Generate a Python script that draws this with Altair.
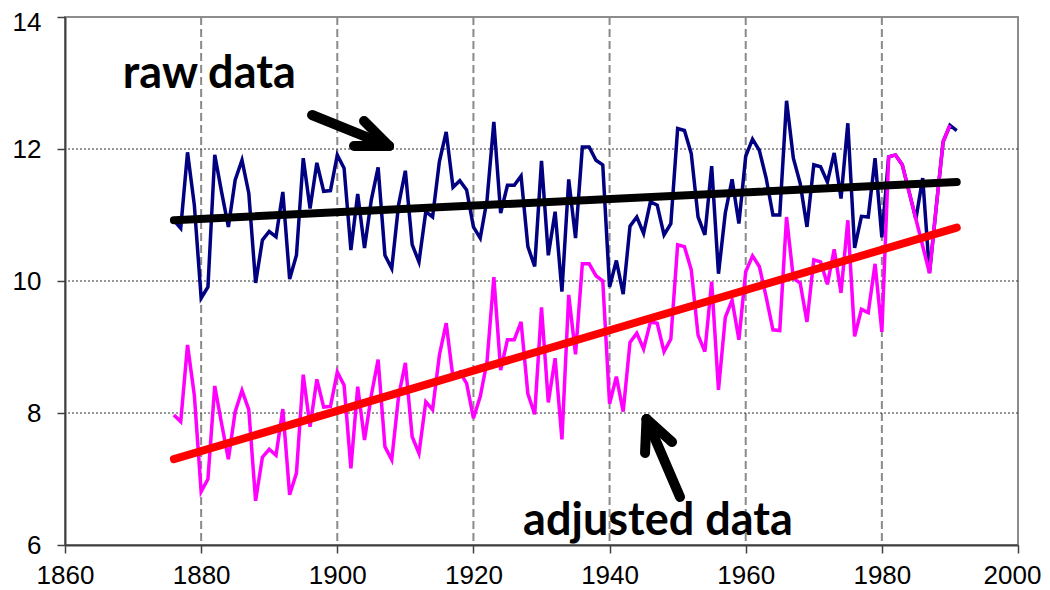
import altair as alt
import pandas as pd

# ---------------- data ----------------
raw_years = list(range(1876, 1992))
raw_temps = [
    10.92, 10.80, 11.95, 11.15, 9.74, 9.91, 11.91, 11.35, 10.82, 11.53,
    11.83, 11.33, 9.97, 10.62, 10.75, 10.67, 11.35, 10.03, 10.39, 11.86,
    11.10, 11.79, 11.36, 11.37, 11.91, 11.71, 10.47, 11.32, 10.50, 11.23,
    11.72, 10.39, 10.19, 11.15, 11.67, 10.55, 10.29, 11.05, 10.97, 11.81,
    12.26, 11.42, 11.52, 11.38, 10.82, 10.65, 11.23, 12.41, 11.03, 11.45,
    11.45, 11.59, 10.52, 10.22, 11.82, 10.39, 11.05, 9.84, 11.54, 10.65,
    12.03, 12.03, 11.83, 11.76, 9.91, 10.31, 9.80, 10.83, 10.97, 10.72,
    11.20, 11.15, 10.70, 10.87, 12.31, 12.28, 11.93, 10.97, 10.70, 11.74,
    10.11, 11.03, 11.54, 10.87, 11.89, 12.15, 11.98, 11.56, 11.00, 11.00,
    12.73, 11.86, 11.48, 10.82, 11.76, 11.73, 11.50, 11.94, 11.25, 12.39,
    10.50, 10.98, 10.97, 11.86, 10.66, 11.88, 11.91, 11.76, 11.35, 10.94,
    11.56, 10.12, 11.13, 12.11, 12.36, 12.28,
]
adj_years = list(range(1876, 1991))
adj_temps = [
    7.97, 7.87, 9.03, 8.27, 6.81, 7.00, 8.41, 7.84, 7.30, 8.02,
    8.34, 8.05, 6.67, 7.33, 7.45, 7.36, 8.06, 6.76, 7.09, 8.58,
    7.79, 8.51, 8.09, 8.10, 8.62, 8.42, 7.16, 8.40, 7.59, 8.27,
    8.81, 7.49, 7.29, 8.25, 8.76, 7.64, 7.39, 8.17, 8.05, 8.88,
    9.36, 8.53, 8.62, 8.45, 7.92, 8.25, 8.78, 10.06, 8.65, 9.11,
    9.11, 9.38, 8.29, 7.98, 9.60, 8.16, 8.83, 7.60, 9.79, 8.89,
    10.26, 10.26, 10.08, 10.00, 8.14, 8.55, 8.02, 9.07, 9.21, 8.97,
    9.38, 9.36, 8.93, 9.12, 10.55, 10.52, 10.17, 9.18, 8.93, 9.99,
    8.35, 9.45, 9.71, 9.11, 10.14, 10.38, 10.22, 9.76, 9.26, 9.25,
    10.97, 10.04, 9.97, 9.38, 10.32, 10.29, 9.95, 10.48, 9.82, 10.92,
    9.16, 9.57, 9.52, 10.26, 9.23, 11.88, 11.91, 11.76, 11.35, 10.94,
    10.53, 10.12, 11.13, 12.11, 12.36,
]
trend_years = [1876, 1991]
raw_trend = [10.92, 11.50]
adj_trend = [7.30, 10.81]

x_ticks = [1860, 1880, 1900, 1920, 1940, 1960, 1980, 2000]
y_ticks = [6, 8, 10, 12, 14]
x_grid = [1880, 1900, 1920, 1940, 1960, 1980]
y_grid = [8, 10, 12]

label_texts = ["raw data", "adjusted data"]
label_x = [1868.5, 1927.3]
label_y = [12.92, 6.15]

# arrow segments (shaft + two head legs) for each annotation arrow
arrow_x1 = [1896.29, 1907.60, 1907.60, 1950.35, 1945.43, 1945.43]
arrow_y1 = [12.515, 12.045, 12.045, 6.727, 7.909, 7.909]
arrow_x2 = [1907.60, 1902.46, 1903.93, 1945.43, 1945.21, 1949.18]
arrow_y2 = [12.045, 12.045, 12.424, 7.909, 7.394, 7.561]

# ---------------- frames ----------------
raw_df = pd.DataFrame({"year": raw_years, "temp": raw_temps})
adj_df = pd.DataFrame({"year": adj_years, "temp": adj_temps})
raw_tr_df = pd.DataFrame({"year": trend_years, "temp": raw_trend})
adj_tr_df = pd.DataFrame({"year": trend_years, "temp": adj_trend})
xg_df = pd.DataFrame({"year": x_grid})
yg_df = pd.DataFrame({"temp": y_grid})
lab_df = pd.DataFrame({"year": label_x, "temp": label_y, "t": label_texts})
arr_df = pd.DataFrame({"year": arrow_x1, "temp": arrow_y1, "year2": arrow_x2, "temp2": arrow_y2})

xscale = alt.Scale(domain=[1860, 2000], nice=False, zero=False)
yscale = alt.Scale(domain=[6, 14], nice=False, zero=False)

axis_common = dict(
    labelFont="Liberation Sans", labelFontSize=26, labelColor="#000000",
    tickColor="#404040", tickSize=8, tickWidth=1.5,
    domainColor="#404040", domainWidth=2, grid=False, title=None,
    labelFlush=False,
)
xaxis = alt.Axis(
    values=x_ticks, format="d", labelPadding=9,
    labelOffset={"condition": {"test": "datum.value == 2000", "value": -6}, "value": 0},
    **axis_common,
)
yaxis = alt.Axis(
    values=y_ticks, format="d", labelPadding=16,
    labelOffset={"condition": {"test": "datum.value == 14", "value": 5}, "value": 0},
    **axis_common,
)


def X(field="year"):
    return alt.X(field, type="quantitative", scale=xscale, axis=xaxis)


def Y(field="temp"):
    return alt.Y(field, type="quantitative", scale=yscale, axis=yaxis)


hgrid = alt.Chart(yg_df).mark_rule(color="#333333", strokeWidth=1, strokeDash=[2, 2]).encode(y=Y())
vgrid = alt.Chart(xg_df).mark_rule(color="#8a8a8a", strokeWidth=2, strokeDash=[8, 4]).encode(x=X())

raw_line = alt.Chart(raw_df).mark_line(color="#000080", strokeWidth=3.5).encode(x=X(), y=Y())
adj_line = alt.Chart(adj_df).mark_line(color="#FF00FF", strokeWidth=3.5).encode(x=X(), y=Y())
raw_trend_line = alt.Chart(raw_tr_df).mark_line(color="#000000", strokeWidth=8, strokeCap="round").encode(x=X(), y=Y())
adj_trend_line = alt.Chart(adj_tr_df).mark_line(color="#FF0000", strokeWidth=8, strokeCap="round").encode(x=X(), y=Y())

arrows = alt.Chart(arr_df).mark_rule(color="#000000", strokeWidth=10, strokeCap="round").encode(
    x=X(), y=Y(), x2="year2", y2="temp2"
)
labels = alt.Chart(lab_df).mark_text(
    align="left", baseline="alphabetic", font="Lato", fontWeight="bold", fontSize=45, color="#000000"
).encode(x=X(), y=Y(), text="t")

chart = alt.layer(
    vgrid, hgrid, raw_line, adj_line, raw_trend_line, adj_trend_line, arrows, labels
).properties(
    width=953, height=528,
    autosize=alt.AutoSizeParams(type="none"),
    padding={"left": 57, "top": 9, "right": 24, "bottom": 48},
    background="#ffffff",
).configure_view(
    stroke="#8c8c8c", strokeWidth=2
)

chart.save("out.html", embed_options={"renderer": "svg", "actions": False})
